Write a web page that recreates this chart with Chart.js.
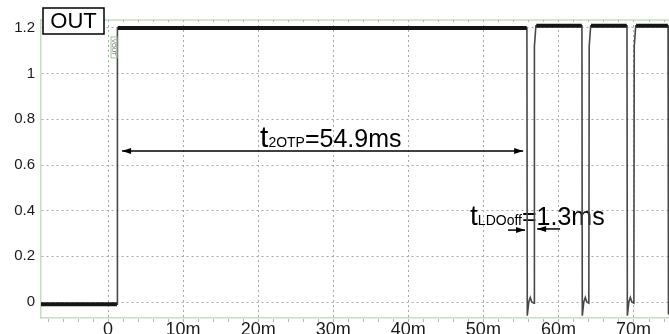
<!DOCTYPE html>
<html>
<head>
<meta charset="utf-8">
<title>OUT waveform</title>
<script src="https://cdn.jsdelivr.net/npm/chart.js@4.4.1/dist/chart.umd.min.js"></script>
<style>
  html, body { margin: 0; padding: 0; background: #fff; }
  #wrap { width: 669px; height: 334px; }
</style>
</head>
<body>
<div id="wrap"><canvas id="scopeChart" width="669" height="334"></canvas></div>
<script>
// Scope capture of the OUT pin (time in ms, level in V)
const traceTime = [-8.93, 1.2, 1.25, 55.8, 55.85, 56.05, 56.25, 56.45, 56.75, 56.8, 57.0,
  63.13, 63.18, 63.38, 63.58, 63.78, 64.05, 64.1, 64.3,
  69.13, 69.18, 69.38, 69.58, 69.78, 70.05, 70.1, 70.3,
  74.6, 74.66];
const traceVolts = [-0.01, -0.01, 1.2, 1.2, -0.06, 0.0, 0.02, 0.0, -0.005, 1.12, 1.21,
  1.21, -0.06, 0.0, 0.02, 0.0, -0.005, 1.12, 1.21,
  1.21, -0.06, 0.0, 0.02, 0.0, -0.005, 1.12, 1.21,
  1.21, -0.055];

// Flat (noisy) stretches of the trace, drawn as a thicker band
const bandTime = [-8.93, 1.18, 1.2, 1.3, 55.78, 55.8, 57.05, 63.1, 63.12, 64.35, 69.1, 69.12, 70.35, 74.58];
const bandVolts = [-0.01, -0.01, null, 1.2, 1.2, null, 1.21, 1.21, null, 1.21, 1.21, null, 1.21, 1.21];

// Axis ticks
const xTickValues = [0, 10, 20, 30, 40, 50, 60, 70];
const xTickLabels = ['0', '10m', '20m', '30m', '40m', '50m', '60m', '70m'];
const yTickValues = [0, 0.2, 0.4, 0.6, 0.8, 1, 1.2];
const yTickLabels = ['0', '0.2', '0.4', '0.6', '0.8', '1', '1.2'];

const xMin = -8.93, xMax = 74.73;
const yMin = -0.07, yMax = 1.235;
const minorStep = 2;

const axisGreen = '#c5dcc5';
const gridGrey = '#a8a8a8';
const fontFamily = '"Liberation Sans", Arial, sans-serif';

function toPoints(xs, ys) {
  return xs.map((x, i) => ({ x: x, y: ys[i] }));
}

// Arrow with filled heads (data coords for x and y)
function drawArrow(ctx, xs, ys, x1, x2, yv, headStart, headEnd) {
  const px1 = xs.getPixelForValue(x1);
  const px2 = xs.getPixelForValue(x2);
  const py = ys.getPixelForValue(yv);
  ctx.save();
  ctx.strokeStyle = '#000';
  ctx.fillStyle = '#000';
  ctx.lineWidth = 1.5;
  ctx.beginPath();
  ctx.moveTo(px1, py);
  ctx.lineTo(px2, py);
  ctx.stroke();
  const head = (tipX, dir) => {
    ctx.beginPath();
    ctx.moveTo(tipX, py);
    ctx.lineTo(tipX - dir * 9, py - 3);
    ctx.lineTo(tipX - dir * 9, py + 3);
    ctx.closePath();
    ctx.fill();
  };
  const dir = px2 > px1 ? 1 : -1;
  if (headEnd) head(px2, dir);
  if (headStart) head(px1, -dir);
  ctx.restore();
}

// Text like t<sub>xx</sub>=value, left aligned on one baseline
function drawSubText(ctx, xs, ys, xv, yv, parts) {
  let px = xs.getPixelForValue(xv);
  const py = ys.getPixelForValue(yv);
  ctx.save();
  ctx.fillStyle = '#000';
  ctx.textBaseline = 'alphabetic';
  ctx.textAlign = 'left';
  parts.forEach(p => {
    ctx.font = `${p.size}px ${fontFamily}`;
    ctx.fillText(p.text, px, py);
    px += ctx.measureText(p.text).width;
  });
  ctx.restore();
}

const scopeDecor = {
  id: 'scopeDecor',
  beforeDatasetsDraw(chart) {
    const { ctx, chartArea } = chart;
    const xs = chart.scales.x, ys = chart.scales.y;

    // top frame line + minor ticks on top and bottom
    ctx.save();
    ctx.strokeStyle = axisGreen;
    ctx.lineWidth = 1.5;
    ctx.beginPath();
    ctx.moveTo(chartArea.left, chartArea.top);
    ctx.lineTo(chartArea.right, chartArea.top);
    ctx.stroke();
    ctx.strokeStyle = '#a9bfa9';
    ctx.lineWidth = 1;
    for (let t = Math.ceil(xMin / minorStep) * minorStep; t <= xMax; t += minorStep) {
      const px = Math.round(xs.getPixelForValue(t)) + 0.5;
      ctx.beginPath();
      ctx.moveTo(px, chartArea.top);
      ctx.lineTo(px, chartArea.top + 2);
      ctx.moveTo(px, chartArea.bottom + 1);
      ctx.lineTo(px, chartArea.bottom + 4);
      ctx.stroke();
    }
    ctx.restore();

    // t2OTP annotation
    drawArrow(ctx, xs, ys, 1.87, 55.3, 0.661, true, true);
    drawSubText(ctx, xs, ys, 20.25, 0.679, [
      { text: 't', size: 30 },
      { text: '2OTP', size: 14 },
      { text: '=54.9ms', size: 25 }
    ]);

    // tLDOoff annotation
    drawArrow(ctx, xs, ys, 53.28, 55.55, 0.315, false, true);
    drawArrow(ctx, xs, ys, 60.22, 57.16, 0.32, false, true);
    drawSubText(ctx, xs, ys, 48.23, 0.337, [
      { text: 't', size: 28 },
      { text: 'LDOoff', size: 14 },
      { text: '=1.3ms', size: 25 }
    ]);
  },
  afterDraw(chart) {
    const { ctx, chartArea } = chart;
    const xs = chart.scales.x, ys = chart.scales.y;

    // channel marker next to the rising edge
    const vx = xs.getPixelForValue(0.8);
    const vy = ys.getPixelForValue(1.115);
    ctx.save();
    ctx.strokeStyle = '#9cc79c';
    ctx.lineWidth = 1;
    ctx.strokeRect(vx - 3, vy - 10.5, 6, 21);
    ctx.translate(vx, vy);
    ctx.rotate(Math.PI / 2);
    ctx.fillStyle = '#666';
    ctx.font = `6px ${fontFamily}`;
    ctx.textAlign = 'center';
    ctx.textBaseline = 'middle';
    ctx.fillText('VOUT', 0, 0);
    ctx.restore();

    // OUT label box
    ctx.save();
    const bx = chartArea.left + 2, by = 8, bw = 61, bh = 26;
    ctx.fillStyle = '#fff';
    ctx.fillRect(bx, by, bw, bh);
    ctx.strokeStyle = '#000';
    ctx.lineWidth = 1.5;
    ctx.strokeRect(bx, by, bw, bh);
    ctx.fillStyle = '#000';
    ctx.font = `22px ${fontFamily}`;
    ctx.textAlign = 'center';
    ctx.textBaseline = 'middle';
    ctx.fillText('OUT', bx + bw / 2, by + bh / 2 + 1);
    ctx.restore();
  }
};

function initScopeChart() {
  const ctx = document.getElementById('scopeChart').getContext('2d');
  new Chart(ctx, {
    type: 'line',
    data: {
      datasets: [
        {
          data: toPoints(bandTime, bandVolts),
          borderColor: '#151515',
          borderWidth: 4,
          pointRadius: 0,
          tension: 0,
          spanGaps: false
        },
        {
          data: toPoints(traceTime, traceVolts),
          borderColor: '#484848',
          borderWidth: 1.6,
          pointRadius: 0,
          tension: 0
        }
      ]
    },
    options: {
      responsive: false,
      animation: false,
      devicePixelRatio: 1,
      layout: { padding: { top: 20, right: 0, left: 0, bottom: 0 } },
      plugins: {
        legend: { display: false },
        tooltip: { enabled: false }
      },
      scales: {
        x: {
          type: 'linear',
          min: xMin,
          max: xMax,
          afterBuildTicks: scale => { scale.ticks = xTickValues.map(v => ({ value: v })); },
          afterFit: scale => { scale.height = 16; },
          grid: { color: gridGrey, lineWidth: 1, drawTicks: false },
          border: { color: axisGreen, width: 1.5, dash: [2, 3] },
          ticks: {
            padding: 1,
            color: '#1a1a1a',
            font: { family: fontFamily, size: 18 },
            maxRotation: 0,
            autoSkip: false,
            callback: value => {
              const i = xTickValues.indexOf(value);
              return i >= 0 ? xTickLabels[i] : '';
            }
          }
        },
        y: {
          min: yMin,
          max: yMax,
          afterBuildTicks: scale => { scale.ticks = yTickValues.map(v => ({ value: v })); },
          afterFit: scale => { scale.width = 41; },
          grid: { color: gridGrey, lineWidth: 1, drawTicks: false },
          border: { color: axisGreen, width: 1.5, dash: [2, 3] },
          ticks: {
            padding: 6,
            color: '#1a1a1a',
            font: { family: fontFamily, size: 15 },
            callback: value => {
              const i = yTickValues.indexOf(value);
              return i >= 0 ? yTickLabels[i] : '';
            }
          }
        }
      }
    },
    plugins: [scopeDecor]
  });
}

document.addEventListener('DOMContentLoaded', initScopeChart);
</script>
</body>
</html>
